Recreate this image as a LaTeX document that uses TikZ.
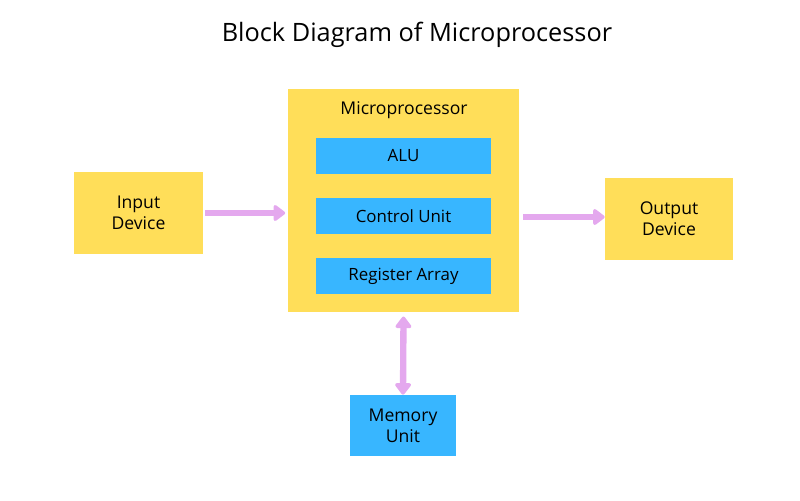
\documentclass[tikz,border=0pt]{standalone}
\usepackage{fontspec}
\setmainfont{Open Sans}
\usetikzlibrary{arrows.meta}
\definecolor{boxyellow}{HTML}{FFDE59}
\definecolor{boxblue}{HTML}{38B6FF}
\definecolor{arrowviolet}{HTML}{E4A8EE}
\begin{document}
\begin{tikzpicture}[
        x=0.025cm, y=-0.025cm,
        block/.style={fill=boxyellow, inner sep=0pt, align=center, font=\fontsize{12.5}{15}\selectfont},
        unit/.style={fill=boxblue, inner sep=0pt, align=center, font=\fontsize{12}{14}\selectfont},
        flow/.style={draw=arrowviolet, line width=4.5pt, -{Triangle[round, length=9pt, width=13pt]}},
        bothflow/.style={flow, {Triangle[round, length=9pt, width=13pt]}-{Triangle[round, length=9pt, width=13pt]}}
    ]
        \useasboundingbox (0,0) rectangle (800,500);

        \node[font=\fontsize{18}{22}\selectfont] (title) at (417,35) {Block Diagram of Microprocessor};

        % Microprocessor and its units
        \node[block, minimum width=231*0.025cm, minimum height=223*0.025cm] (micro) at (403.5,200.5) {};
        \node[font=\fontsize{12.5}{15}\selectfont] (microlabel) at (404,110) {Microprocessor};
        \node[unit, minimum width=175*0.025cm, minimum height=36*0.025cm] (alu) at (403.5,156) {ALU};
        \node[unit, minimum width=175*0.025cm, minimum height=36*0.025cm] (control) at (403.5,216) {Control Unit};
        \node[unit, minimum width=175*0.025cm, minimum height=36*0.025cm] (register) at (403.5,276) {Register Array};

        % Input, output and memory
        \node[block, minimum width=129*0.025cm, minimum height=82*0.025cm] (input) at (138.5,213) {Input\\Device};
        \node[block, minimum width=128*0.025cm, minimum height=82*0.025cm] (output) at (669,219) {Output\\Device};
        \node[unit, minimum width=106*0.025cm, minimum height=61*0.025cm, font=\fontsize{12.5}{15}\selectfont] (memory) at (403,425.5) {Memory\\Unit};

        \coordinate (microin) at (288,213);
        \coordinate (microout) at (519,217);
        \draw[flow] (input.east |- microin) ++(2,0) -- ([xshift=-2pt]microin);
        \draw[flow] ([xshift=3pt]microout) -- (output.west |- microout);
        \draw[bothflow] ([yshift=-3pt]micro.south) -- (memory.north);
    \end{tikzpicture}
\end{document}
